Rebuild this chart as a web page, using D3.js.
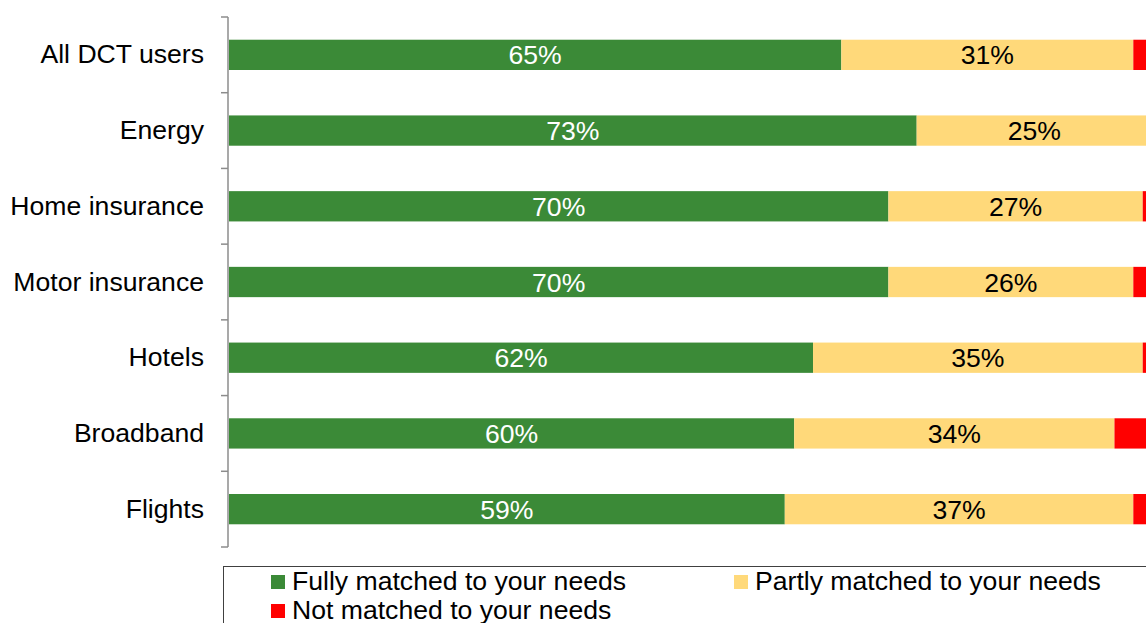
<!DOCTYPE html>
<html>
<head>
<meta charset="utf-8">
<script src="https://cdn.jsdelivr.net/npm/d3@7"></script>
<style>
  html, body { margin: 0; padding: 0; background: #fff; overflow: hidden; }
  svg { display: block; font-family: "Liberation Sans", Arial, sans-serif; }
</style>
</head>
<body>
<svg id="chart" width="1146" height="623"></svg>
<script>
// Share of DCT users by how well the result matched their needs
const categories = ["All DCT users", "Energy", "Home insurance", "Motor insurance", "Hotels", "Broadband", "Flights"];
const fully   = [65, 73, 70, 70, 62, 60, 59];
const partly  = [31, 25, 27, 26, 35, 34, 37];
const notMatched = [4, 2, 3, 4, 3, 6, 4];
const seriesNames = ["Fully matched to your needs", "Partly matched to your needs", "Not matched to your needs"];
const seriesColors = ["#3B8A37", "#FFD97A", "#FF0000"];
const labelColors = ["#ffffff", "#000000", "#000000"];
const fontSize = 26.6;

const svg = d3.select("#chart");

const x = d3.scaleLinear().domain([0, 100]).range([229, 1171]);
const y = d3.scaleBand().domain(categories).range([17, 547])
  .paddingInner(0.6).paddingOuter(0.3);

const rows = categories.map((c, i) => ({ cat: c, s0: fully[i], s1: partly[i], s2: notMatched[i] }));
const stack = d3.stack().keys(["s0", "s1", "s2"])(rows);

// stacked bars
const layers = svg.append("g").selectAll("g").data(stack).join("g")
  .attr("fill", (d, i) => seriesColors[i]);

layers.selectAll("rect").data(d => d).join("rect")
  .attr("x", d => x(d[0]))
  .attr("y", d => y(d.data.cat))
  .attr("width", d => x(d[1]) - x(d[0]))
  .attr("height", y.bandwidth());

// value labels for the first two series
stack.slice(0, 2).forEach((layer, si) => {
  svg.append("g").selectAll("text").data(layer).join("text")
    .attr("x", d => (x(d[0]) + x(d[1])) / 2)
    .attr("y", d => y(d.data.cat) + y.bandwidth() / 2)
    .attr("dy", "0.36em")
    .attr("text-anchor", "middle")
    .attr("font-size", fontSize)
    .attr("fill", labelColors[si])
    .text(d => (d[1] - d[0]) + "%");
});

// category axis
const axisG = svg.append("g").attr("transform", "translate(228,0)")
  .call(d3.axisLeft(y).tickSize(0).tickPadding(24));
axisG.select(".domain").remove();
axisG.selectAll("text").attr("font-size", fontSize).attr("fill", "#000")
  .attr("font-family", "'Liberation Sans', Arial, sans-serif");

const step = y.step();
const boundaries = d3.range(categories.length + 1).map(i => y(categories[0]) - y.paddingInner() * step / 2 + i * step);
const grey = "#8C8C8C";
svg.append("line")
  .attr("x1", 228).attr("x2", 228)
  .attr("y1", boundaries[0]).attr("y2", boundaries[boundaries.length - 1])
  .attr("stroke", grey).attr("stroke-width", 1.5);
svg.append("g").selectAll("line").data(boundaries).join("line")
  .attr("x1", 221).attr("x2", 228)
  .attr("y1", d => d).attr("y2", d => d)
  .attr("stroke", grey).attr("stroke-width", 1.5);

// legend
const legend = svg.append("g");
legend.append("rect")
  .attr("x", 223.5).attr("y", 566.5)
  .attr("width", 1000).attr("height", 100)
  .attr("fill", "none").attr("stroke", "#404040").attr("stroke-width", 1);

const legendPos = [[271, 590], [734, 590], [271, 619]];
seriesNames.forEach((name, i) => {
  const [lx, ly] = legendPos[i];
  legend.append("rect")
    .attr("x", lx).attr("y", ly - 15)
    .attr("width", 14).attr("height", 14)
    .attr("fill", seriesColors[i]);
  legend.append("text")
    .attr("x", lx + 21).attr("y", ly)
    .attr("font-size", fontSize)
    .attr("fill", "#000")
    .text(name);
});
</script>
</body>
</html>
